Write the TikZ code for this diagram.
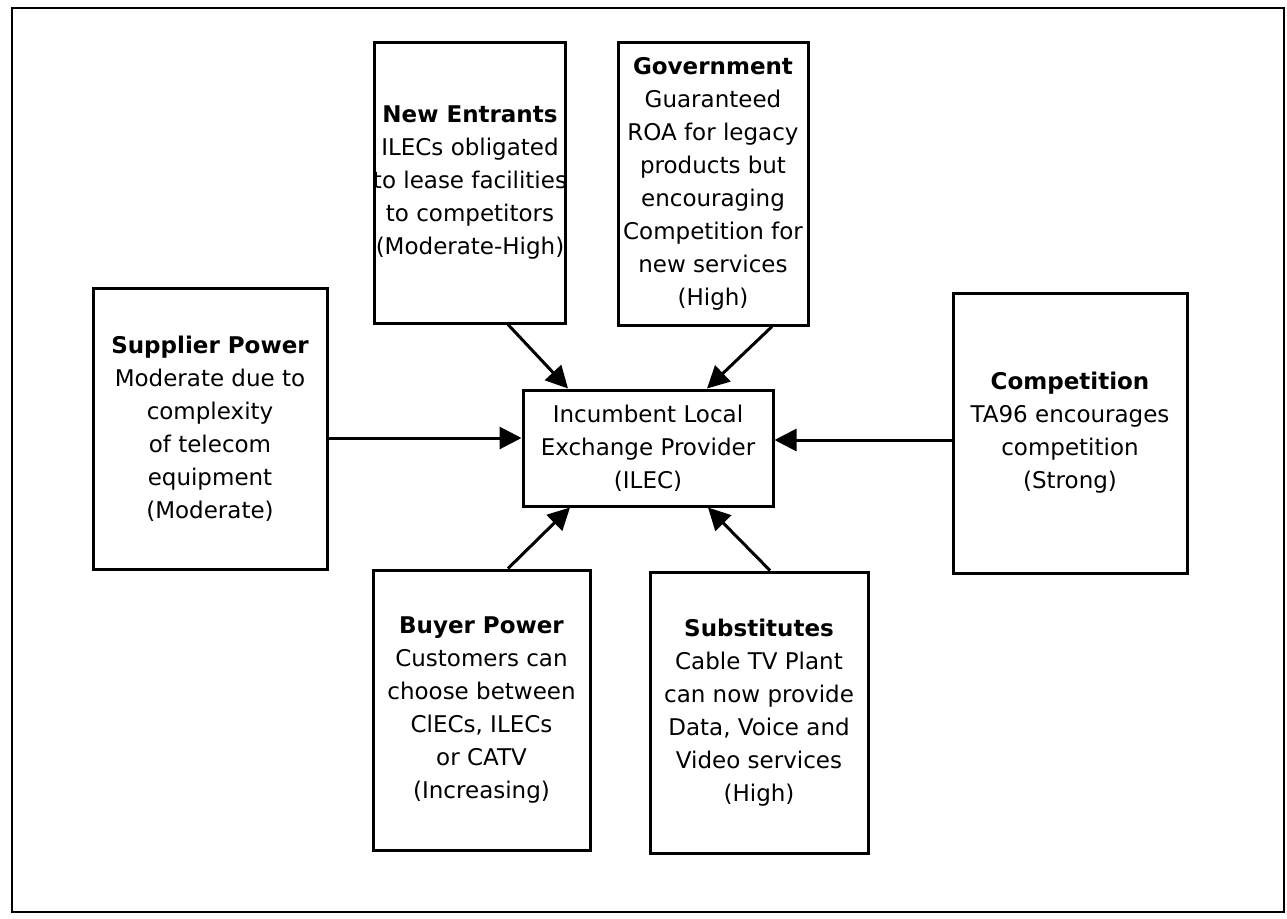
\documentclass[tikz,border=0pt]{standalone}
\usepackage{fontspec}
\setmainfont{DejaVu Sans}
\usetikzlibrary{arrows.meta}
\begin{document}
\begin{tikzpicture}[x=1pt,y=-1pt,
  force/.style={draw, line width=3pt, align=center, inner sep=1pt,
    font=\fontsize{23}{33}\selectfont},
  arr/.style={line width=3pt, -{Triangle[length=22pt,width=22pt]}}]
\useasboundingbox (0,0) rectangle (1287,918);
% outer frame
\draw[line width=2.8pt] (12,8) rectangle (1284,912);

% the industry at the centre
\node[force, minimum width=250pt, minimum height=116pt] (ilec) at (648,448)
  {Incumbent Local\\Exchange Provider\\(ILEC)};

% surrounding forces
\node[force, minimum width=190pt, minimum height=281pt] (ne) at (470,182.5)
  {\textbf{New Entrants}\\ILECs obligated\\\makebox[184pt]{to lease facilities}\\to competitors\\(Moderate-High)};
\node[force, minimum width=190pt, minimum height=283pt] (gov) at (713,183.5)
  {\textbf{Government}\\Guaranteed\\ROA for legacy\\products but\\encouraging\\Competition for\\new services\\(High)};
\node[force, minimum width=234pt, minimum height=281pt] (sup) at (210,428.5)
  {\textbf{Supplier Power}\\Moderate due to\\complexity\\of telecom\\equipment\\(Moderate)};
\node[force, minimum width=234pt, minimum height=280pt] (comp) at (1070,433)
  {\textbf{Competition}\\TA96 encourages\\competition\\(Strong)};
\node[force, minimum width=217pt, minimum height=280pt] (buy) at (481.5,710)
  {\textbf{Buyer Power}\\Customers can\\choose between\\ClECs, ILECs\\or CATV\\(Increasing)};
\node[force, minimum width=218pt, minimum height=281pt] (sub) at (759,712.5)
  {\textbf{Substitutes}\\Cable TV Plant\\can now provide\\Data, Voice and\\Video services\\(High)};

% pressures acting on the ILEC
\draw[arr] ([xshift=38pt]ne.south) -- ([xshift=-80pt]ilec.north);
\draw[arr] ([xshift=59pt]gov.south) -- ([xshift=59pt]ilec.north);
\draw[arr] ([yshift=-9.5pt]sup.east) -- ([yshift=10pt]ilec.west);
\draw[arr] ([yshift=-7pt]comp.west) -- ([yshift=8pt]ilec.east);
\draw[arr] ([xshift=26.5pt]buy.north) -- ([xshift=-78pt]ilec.south);
\draw[arr] ([xshift=11pt]sub.north) -- ([xshift=60pt]ilec.south);
\end{tikzpicture}
\end{document}
